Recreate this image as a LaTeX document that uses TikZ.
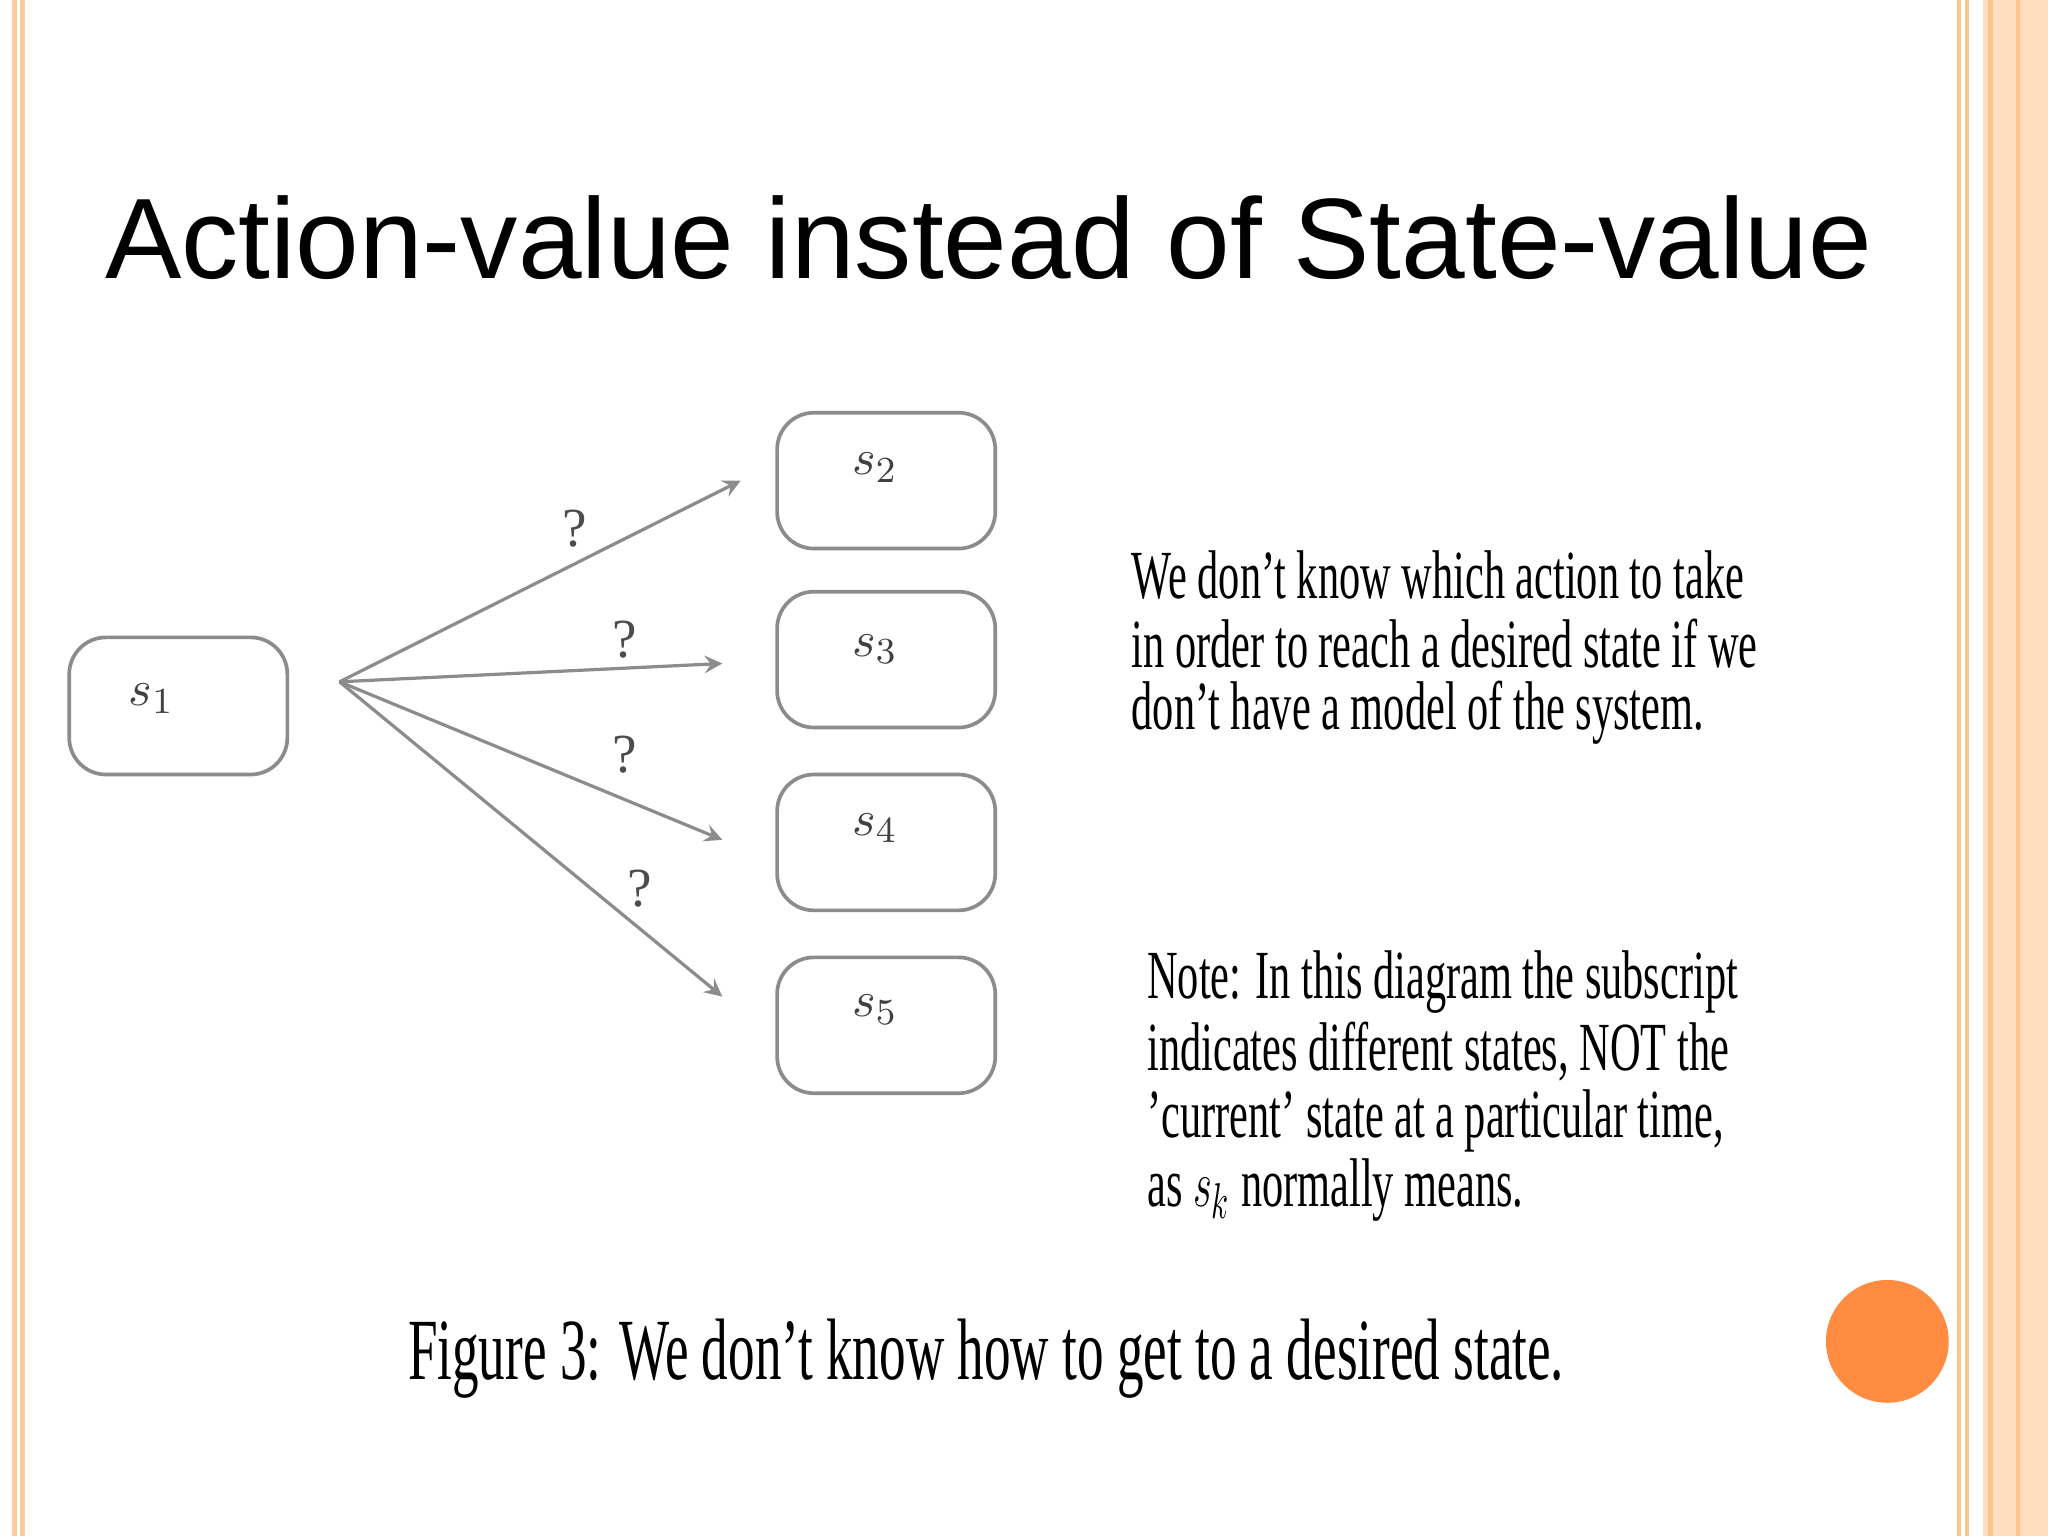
\documentclass[tikz,border=0pt]{standalone}
\usepackage{fontspec}
\setmainfont{Liberation Serif}
\newfontfamily\titlefont{Liberation Sans}
\begin{document}
\begin{tikzpicture}[x=0.01cm,y=-0.01cm,
  st/.style={draw=black!45,rounded corners=8pt,line width=0.8pt},
  arr/.style={draw=black!45,line width=0.7pt,-stealth},
  q/.style={text=black!70,font=\fontsize{12}{12}\selectfont},
  para/.style={anchor=west,inner sep=0pt,xscale=0.615,font=\fontsize{15}{15}\selectfont},
  sl/.style={font=\fontsize{11}{11}\selectfont,text=black!75}]
\useasboundingbox (0,0) rectangle (1568,1176);
\fill[white] (0,0) rectangle (1568,1176);
\draw[color=orange!40,line width=1pt] (11,0)--(11,1176) (17,0)--(17,1176);
\fill[orange!25] (1518,0) rectangle (1568,1176);
\draw[color=orange!45,line width=1pt] (1500,0)--(1500,1176) (1506,0)--(1506,1176) (1524,0)--(1524,1176) (1545,0)--(1545,1176);
\fill[color={rgb,255:red,255;green,140;blue,64}] (1445,1027) circle (47);
\node[font=\titlefont\fontsize{24.9}{25}\selectfont] (t) at (757,182) {Action-value instead of State-value};
\draw[st] (53,488) rectangle (220,593);
\coordinate (src) at (260,522);
\draw[st] (595,316) rectangle (762,420);
\draw[st] (595,453) rectangle (762,557);
\draw[st] (595,593) rectangle (762,697);
\draw[st] (595,733) rectangle (762,837);
\node[sl] (l1) at (116,535) {$s_1$};
\node[sl] (l2) at (670,358) {$s_2$};
\node[sl] (l3) at (670,497) {$s_3$};
\node[sl] (l4) at (670,634) {$s_4$};
\node[sl] (l5) at (670,773) {$s_5$};
\coordinate (e2) at (567,368);
\coordinate (e3) at (553,508);
\coordinate (e4) at (553,643);
\coordinate (e5) at (553,763);
\draw[arr] (src)--(e2);
\draw[arr] (src)--(e3);
\draw[arr] (src)--(e4);
\draw[arr] (src)--(e5);
\node[q] (q1) at (440,405) {?};
\node[q] (q2) at (478,490) {?};
\node[q] (q3) at (478,578) {?};
\node[q] (q4) at (490,680) {?};
\node[para] (p1) at (866,440) {We don't know which action to take};
\node[para] (p2) at (866,493) {in order to reach a desired state if we};
\node[para] (p3) at (866,546) {don't have a model of the system.};
\node[para] (n1) at (878,752) {Note: In this diagram the subscript};
\node[para] (n2) at (878,805) {indicates different states, NOT the};
\node[para] (n3) at (878,858) {'current' state at a particular time,};
\node[para] (n4) at (878,911) {as $s_k$ normally means.};
\node[para,xscale=0.99,font=\fontsize{19}{19}\selectfont] (cap) at (312,1040) {Figure 3: We don't know how to get to a desired state.};
\end{tikzpicture}
\end{document}
